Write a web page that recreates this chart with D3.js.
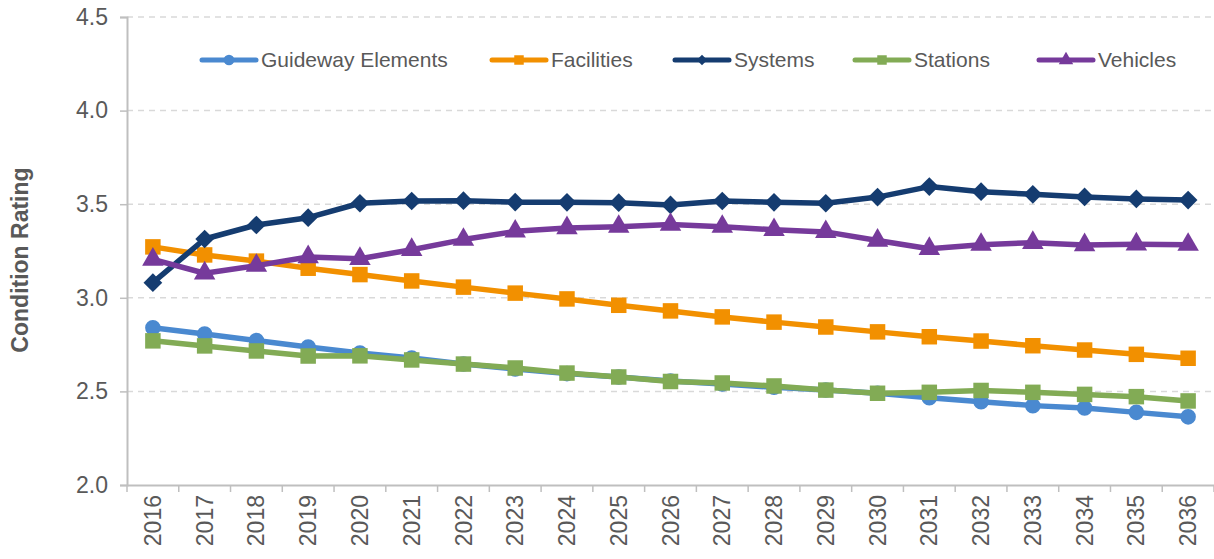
<!DOCTYPE html>
<html>
<head>
<meta charset="utf-8">
<script src="https://cdn.jsdelivr.net/npm/d3@7"></script>
<style>
  html, body { margin: 0; padding: 0; background: #fff; }
  svg { display: block; font-family: "Liberation Sans", Arial, sans-serif; }
</style>
</head>
<body>
<svg id="chart" width="1214" height="559"></svg>
<script>
const years = ["2016","2017","2018","2019","2020","2021","2022","2023","2024","2025","2026","2027","2028","2029","2030","2031","2032","2033","2034","2035","2036"];
const guideway = [2.84,2.807,2.772,2.737,2.705,2.678,2.646,2.62,2.595,2.577,2.556,2.54,2.522,2.507,2.49,2.466,2.445,2.424,2.411,2.388,2.364];
const facilities = [3.272,3.229,3.196,3.158,3.124,3.09,3.057,3.025,2.994,2.96,2.93,2.898,2.87,2.844,2.818,2.792,2.769,2.744,2.721,2.698,2.677];
const systems = [3.081,3.314,3.389,3.428,3.505,3.517,3.519,3.511,3.51,3.508,3.496,3.517,3.51,3.505,3.538,3.594,3.567,3.553,3.539,3.528,3.522];
const stations = [2.77,2.743,2.716,2.689,2.69,2.668,2.646,2.625,2.598,2.577,2.553,2.545,2.529,2.507,2.49,2.495,2.505,2.495,2.484,2.472,2.449];
const vehicles = [3.205,3.131,3.172,3.218,3.209,3.257,3.311,3.355,3.373,3.38,3.391,3.38,3.363,3.352,3.306,3.262,3.284,3.294,3.282,3.286,3.284];
const yTicks = [2.0,2.5,3.0,3.5,4.0,4.5];
const seriesNames = ["Guideway Elements","Facilities","Systems","Stations","Vehicles"];
const seriesColors = ["#4a89d0","#f29000","#153c70","#82ab55","#763a9b"];
const seriesMarkers = ["circle","square","diamond","square","triangle"];
const seriesValues = [guideway, facilities, systems, stations, vehicles];

const svg = d3.select("#chart");
const x0 = 127, x1 = 1214, yTop = 17, yBot = 485;
const x = d3.scaleBand().domain(years).range([x0, x1]);
const y = d3.scaleLinear().domain([2.0, 4.5]).range([yBot, yTop]);
const textColor = "#595959";
const axisColor = "#bfbfbf";

// gridlines
svg.append("g").selectAll("line").data(yTicks.slice(1)).join("line")
  .attr("x1", x0).attr("x2", x1)
  .attr("y1", d => y(d)).attr("y2", d => y(d))
  .attr("stroke", "#d9d9d9").attr("stroke-width", 1.5)
  .attr("stroke-dasharray", "6,5");

// y axis
const yAxis = svg.append("g").attr("transform", `translate(${x0},0)`)
  .call(d3.axisLeft(y).tickValues(yTicks).tickFormat(d3.format(".1f")).tickSize(7).tickPadding(12));
yAxis.select(".domain").attr("stroke", axisColor).attr("stroke-width", 2);
yAxis.selectAll(".tick line").attr("stroke", axisColor).attr("stroke-width", 1.5);
yAxis.selectAll(".tick text").attr("fill", textColor).attr("font-size", 23)
  .attr("font-family", "Liberation Sans, Arial, sans-serif");

// x axis
const xAxis = svg.append("g").attr("transform", `translate(0,${yBot})`)
  .call(d3.axisBottom(x).tickSize(0));
xAxis.select(".domain").attr("stroke", axisColor).attr("stroke-width", 2);
xAxis.selectAll(".tick text").attr("fill", textColor).attr("font-size", 23)
  .attr("font-family", "Liberation Sans, Arial, sans-serif")
  .attr("transform", "rotate(-90)")
  .attr("text-anchor", "end").attr("dy", "0.35em").attr("x", -10).attr("y", 0);
// tick marks at band boundaries
const bounds = years.map(d => x(d)).concat([x1]);
xAxis.append("g").selectAll("line").data(bounds).join("line")
  .attr("x1", d => d).attr("x2", d => d).attr("y1", 0).attr("y2", 7)
  .attr("stroke", axisColor).attr("stroke-width", 1.5);

// y axis title
svg.append("text")
  .attr("transform", `translate(28,260) rotate(-90)`)
  .attr("text-anchor", "middle").attr("font-size", 23).attr("font-weight", "bold")
  .attr("fill", textColor).text("Condition Rating");

function markerPath(type, s) {
  const sym = { circle: d3.symbolCircle, square: d3.symbolSquare, diamond: d3.symbolSquare, triangle: d3.symbolTriangle }[type];
  return d3.symbol().type(sym).size(s)();
}
const markerRot = { circle: 0, square: 0, diamond: 45, triangle: 0 };
const markerSize = { circle: 190, square: 240, diamond: 175, triangle: 200 };

const cx = d => x(d) + x.bandwidth() / 2;
const line = d3.line().x((d, i) => cx(years[i])).y(d => y(d));

seriesValues.forEach((vals, k) => {
  const g = svg.append("g");
  const mk = seriesMarkers[k];
  g.append("path").datum(vals).attr("d", line)
    .attr("fill", "none").attr("stroke", seriesColors[k]).attr("stroke-width", 5.5)
    .attr("stroke-linejoin", "round");
  g.selectAll("path.m").data(vals).join("path").attr("class", "m")
    .attr("d", markerPath(mk, markerSize[mk]))
    .attr("transform", (d, i) => `translate(${cx(years[i])},${y(d)}) rotate(${markerRot[mk]})`)
    .attr("fill", seriesColors[k]);
});

// legend
const legendX = [200, 490, 673, 853, 1037];
const legend = svg.append("g");
seriesNames.forEach((name, k) => {
  const mk = seriesMarkers[k];
  const lg = legend.append("g").attr("transform", `translate(${legendX[k]},60)`);
  lg.append("line").attr("x1", 2).attr("x2", 56).attr("y1", 0).attr("y2", 0)
    .attr("stroke", seriesColors[k]).attr("stroke-width", 5).attr("stroke-linecap", "round");
  lg.append("path").attr("d", markerPath(mk, mk === "diamond" ? 55 : 90))
    .attr("transform", `translate(29,0) rotate(${markerRot[mk]})`)
    .attr("fill", seriesColors[k]);
  lg.append("text").attr("x", 61).attr("y", 0).attr("dy", "0.35em")
    .attr("font-size", 21).attr("fill", textColor).text(name);
});
</script>
</body>
</html>
